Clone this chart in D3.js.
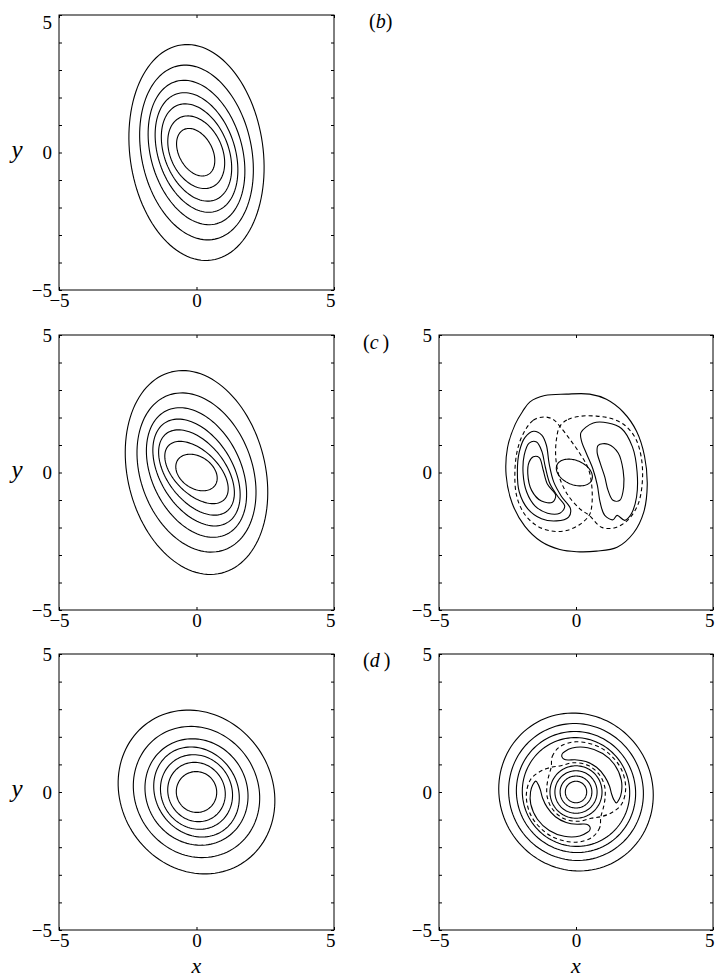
<!DOCTYPE html>
<html><head><meta charset="utf-8">
<script src="https://cdn.jsdelivr.net/npm/d3@7"></script>
<style>body{margin:0;background:#fff}svg{display:block}</style>
</head><body>
<svg id="chart" width="715" height="978"></svg>
<script>
// ---------- axes ----------
const domain = [-5, 5];
const xTicks = [-5, 0, 5];
const yTicks = [-5, -4, -3, -2, -1, 0, 1, 2, 3, 4, 5];
const tickLabels = [-5, 0, 5];

// ---------- left column: elliptical contours (semi-axes, tilt in degrees) ----------
const bA = [3.95, 3.22, 2.69, 2.25, 1.85, 1.39, 0.93];
const bB = [2.42, 2.00, 1.66, 1.39, 1.16, 0.94, 0.605];
const bTheta = [98, 102, 106, 109, 112, 115, 119];
const bCx = [0, 0, 0, 0, 0, -0.01, -0.03];
const bCy = [0, 0, 0, 0, 0, 0.01, 0.01];

const cA = [3.77, 2.99, 2.50, 2.14, 1.79, 1.41, 0.82];
const cB = [2.50, 2.03, 1.62, 1.31, 1.05, 0.79, 0.58];
const cTheta = [104, 110, 116, 122, 128, 136, 146];
const cCx = [0, 0, 0, 0, 0, 0, 0];
const cCy = [0, 0, 0, 0, 0, 0, 0];

const dA = [3.07, 2.45, 1.98, 1.70, 1.39, 1.10, 0.745];
const dB = [2.74, 2.22, 1.82, 1.48, 1.27, 1.02, 0.73];
const dTheta = [124.5, 125, 125, 125, 125, 125, 125];
const dCx = [0, 0, 0, 0, 0, 0, 0];
const dCy = [0, 0, 0, 0, 0, 0, 0];

// ---------- panel (c) right: traced contours [x, y] ----------
const cRightOuter = [[-1.68,2.57],[-1.14,2.80],[-0.35,2.85],[0.50,2.85],[1.11,2.66],[1.72,2.20],[2.21,1.50],[2.50,0.60],[2.60,-0.45],[2.47,-1.45],[2.10,-2.20],[1.50,-2.72],[0.75,-2.86],[0.02,-2.88],[-0.59,-2.80],[-1.26,-2.52],[-1.87,-1.95],[-2.33,-1.12],[-2.55,-0.10],[-2.50,0.90],[-2.22,1.75],[-1.95,2.22]];
const cRightDashL = [[-1.92,1.42],[-1.56,1.90],[-1.16,2.02],[-0.83,1.93],[-0.59,1.68],[-0.24,1.23],[0.14,0.69],[0.45,0.14],[0.58,-0.53],[0.57,-1.26],[0.48,-1.56],[0.14,-1.89],[-0.35,-2.11],[-0.89,-2.13],[-1.44,-1.93],[-1.90,-1.48],[-2.17,-0.83],[-2.23,0.02],[-2.14,0.81]];
const cRightDashR = [[-0.59,1.68],[-0.29,1.93],[0.20,2.05],[0.75,2.05],[1.29,1.96],[1.78,1.72],[2.18,1.23],[2.39,0.50],[2.42,-0.35],[2.27,-1.14],[1.90,-1.72],[1.42,-2.01],[0.93,-1.99],[0.48,-1.56],[0.14,-1.32],[-0.29,-0.83],[-0.61,-0.16],[-0.74,0.57],[-0.71,1.23]];
const cLeftLobe1 = [[-1.55,1.50],[-1.25,1.36],[-1.08,0.99],[-0.98,0.32],[-0.81,-0.35],[-0.53,-0.87],[-0.20,-1.32],[-0.27,-1.62],[-0.71,-1.76],[-1.26,-1.68],[-1.76,-1.32],[-2.07,-0.71],[-2.14,0.02],[-2.07,0.75],[-1.86,1.28]];
const cLeftLobe2 = [[-1.71,1.07],[-1.44,1.11],[-1.25,0.78],[-1.12,0.20],[-0.95,-0.41],[-0.65,-0.89],[-0.41,-1.23],[-0.59,-1.48],[-1.04,-1.48],[-1.50,-1.21],[-1.80,-0.71],[-1.93,-0.04],[-1.89,0.63]];
const cLeftLobe3 = [[-1.56,0.57],[-1.34,0.54],[-1.20,0.10],[-1.04,-0.43],[-0.74,-0.83],[-0.86,-1.08],[-1.26,-1.04],[-1.62,-0.65],[-1.76,-0.04],[-1.71,0.38]];
const cRightLobe1 = [[0.18,1.45],[0.63,1.80],[1.17,1.80],[1.66,1.60],[2.06,0.93],[2.23,0.02],[2.21,-0.89],[2.02,-1.50],[1.78,-1.74],[1.50,-1.56],[1.35,-1.72],[1.05,-1.56],[0.88,-1.08],[0.78,-0.47],[0.62,0.12],[0.38,0.69],[0.20,1.15]];
const cRightLobe2 = [[0.81,0.99],[1.17,1.03],[1.54,0.71],[1.72,0.08],[1.74,-0.53],[1.60,-1.01],[1.35,-1.01],[1.17,-0.65],[1.05,-0.16],[0.89,0.32],[0.77,0.75]];
const cCentre = {cx: -0.06, cy: 0.0, A: 0.69, B: 0.44, theta: 157};

// ---------- panel (d) right: rings, arms and dashed loops ----------
const dRingA = [2.90, 2.50, 2.21, 1.98, 0.95, 0.77, 0.58, 0.39];
const dRingB = [2.78, 2.44, 2.16, 1.95, 0.95, 0.77, 0.58, 0.39];
const dRingTheta = [125, 125, 125, 125, 0, 0, 0, 0];
// polar [angle in degrees, radius]
const dArmUpper = [[106,1.52],[95,1.60],[75,1.66],[55,1.70],[35,1.72],[15,1.71],[0,1.66],[-9,1.60],[-15,1.52],[-11,1.40],[-3,1.30],[10,1.24],[28,1.19],[50,1.17],[72,1.16],[92,1.17],[103,1.19],[110,1.26],[112,1.37],[110,1.47]];
const dArmLower = [[286,1.52],[275,1.60],[255,1.66],[235,1.70],[215,1.72],[195,1.71],[180,1.66],[171,1.60],[165,1.52],[169,1.40],[177,1.30],[190,1.24],[208,1.19],[230,1.17],[252,1.16],[272,1.17],[283,1.19],[290,1.26],[292,1.37],[290,1.47]];
const dDashU = [[135,1.28],[124,1.55],[110,1.74],[90,1.82],[60,1.84],[30,1.85],[5,1.82],[-15,1.72],[-30,1.50],[-45,1.27],[-60,1.10],[-85,1.065],[-115,1.06],[-145,1.06],[-170,1.065],[170,1.08],[152,1.14]];
const dDashL = [[315,1.28],[304,1.55],[290,1.74],[270,1.82],[240,1.84],[210,1.85],[185,1.82],[165,1.72],[150,1.50],[135,1.27],[120,1.10],[95,1.065],[65,1.06],[35,1.06],[10,1.065],[-10,1.08],[-28,1.14]];

// ---------- layout ----------
const svg = d3.select("#chart");
const panels = [
  {id: "bL", x0: 59, x1: 334, y0: 15, y1: 290, tag: "b"},
  {id: "cL", x0: 59, x1: 334, y0: 335, y1: 610},
  {id: "cR", x0: 439, x1: 713, y0: 335, y1: 610, tag: "c"},
  {id: "dL", x0: 59, x1: 334, y0: 654, y1: 930},
  {id: "dR", x0: 439, x1: 713, y0: 654, y1: 930, tag: "d"}
];
const FONT = "'Liberation Serif','Times New Roman',serif";
const toRad = Math.PI / 180;
const polar = p => [p[1] * Math.cos(p[0] * toRad), p[1] * Math.sin(p[0] * toRad)];
const fmt = d => (d < 0 ? "\u2212" + Math.abs(d) : String(d));

function ellipsePts(cx, cy, A, B, thDeg) {
  const th = thDeg * toRad;
  return d3.range(0, 360, 3).map(t => {
    const a = t * toRad;
    return [cx + A * Math.cos(a) * Math.cos(th) - B * Math.sin(a) * Math.sin(th),
            cy + A * Math.cos(a) * Math.sin(th) + B * Math.sin(a) * Math.cos(th)];
  });
}

panels.forEach(p => {
  p.x = d3.scaleLinear().domain(domain).range([p.x0, p.x1]);
  p.y = d3.scaleLinear().domain(domain).range([p.y1, p.y0]);
  p.g = svg.append("g");
  p.smooth = d3.line().x(d => p.x(d[0])).y(d => p.y(d[1])).curve(d3.curveCatmullRomClosed.alpha(0.5));
  p.poly = d3.line().x(d => p.x(d[0])).y(d => p.y(d[1])).curve(d3.curveLinearClosed);
});
const P = Object.fromEntries(panels.map(p => [p.id, p]));

function drawEllipses(p, A, B, T, CX, CY) {
  A.forEach((a, i) => {
    p.g.append("path").attr("d", p.poly(ellipsePts(CX ? CX[i] : 0, CY ? CY[i] : 0, a, B[i], T[i])))
      .attr("fill", "none").attr("stroke", "#000").attr("stroke-width", 1.1);
  });
}
function drawCurve(p, pts, dashed) {
  p.g.append("path").attr("d", p.smooth(pts)).attr("fill", "none")
    .attr("stroke", "#000").attr("stroke-width", 1.1)
    .attr("stroke-dasharray", dashed ? "4,3" : null);
}

// left column
drawEllipses(P.bL, bA, bB, bTheta, bCx, bCy);
drawEllipses(P.cL, cA, cB, cTheta, cCx, cCy);
drawEllipses(P.dL, dA, dB, dTheta, dCx, dCy);

// panel c right
drawCurve(P.cR, cRightOuter, false);
[cLeftLobe1, cLeftLobe2, cLeftLobe3, cRightLobe1, cRightLobe2].forEach(c => drawCurve(P.cR, c, false));
P.cR.g.append("path").attr("d", P.cR.poly(ellipsePts(cCentre.cx, cCentre.cy, cCentre.A, cCentre.B, cCentre.theta)))
  .attr("fill", "none").attr("stroke", "#000").attr("stroke-width", 1.1);
drawCurve(P.cR, cRightDashL, true);
drawCurve(P.cR, cRightDashR, true);

// panel d right
drawEllipses(P.dR, dRingA, dRingB, dRingTheta);
drawCurve(P.dR, dArmUpper.map(polar), false);
drawCurve(P.dR, dArmLower.map(polar), false);
drawCurve(P.dR, dDashU.map(polar), true);
drawCurve(P.dR, dDashL.map(polar), true);

// axes / frames
panels.forEach(p => {
  const g = svg.append("g");
  const left = g.append("g").attr("transform", `translate(${p.x0},0)`)
    .call(d3.axisLeft(p.y).tickValues(yTicks).tickSize(-3).tickSizeOuter(0).tickPadding(7)
      .tickFormat(d => tickLabels.includes(d) ? fmt(d) : ""));
  const right = g.append("g").attr("transform", `translate(${p.x1},0)`)
    .call(d3.axisRight(p.y).tickValues(yTicks).tickSize(-3).tickSizeOuter(0).tickFormat(""));
  const bottom = g.append("g").attr("transform", `translate(0,${p.y1})`)
    .call(d3.axisBottom(p.x).tickValues(xTicks).tickSize(-3).tickSizeOuter(0).tickPadding(4).tickFormat(fmt));
  const top = g.append("g").attr("transform", `translate(0,${p.y0})`)
    .call(d3.axisTop(p.x).tickValues(xTicks).tickSize(-3).tickSizeOuter(0).tickFormat(""));
  [left, right, bottom, top].forEach(a => {
    a.select(".domain").remove();
    a.selectAll("line").attr("stroke", "#000").attr("stroke-width", 1);
    a.selectAll("text").attr("font-family", FONT).attr("font-size", 19).attr("fill", "#000");
  });
  // keep the top y label inside the figure
  left.selectAll(".tick").filter(d => d === 5)
    .select("text").attr("y", Math.max(0, 22 - p.y0));
  // last x label ends at the right frame edge
  bottom.selectAll(".tick").filter(d => d === 5)
    .select("text").attr("text-anchor", "end").attr("x", 1);
  g.append("rect").attr("x", p.x0).attr("y", p.y0).attr("width", p.x1 - p.x0).attr("height", p.y1 - p.y0)
    .attr("fill", "none").attr("stroke", "#000").attr("stroke-width", 1);
});

// axis titles
[P.bL, P.cL, P.dL].forEach(p => {
  svg.append("text").attr("x", 17).attr("y", (p.y0 + p.y1) / 2).attr("dy", "0.2em")
    .attr("text-anchor", "middle").attr("font-family", FONT).attr("font-style", "italic")
    .attr("font-size", 25).text("y");
});
[P.dL, P.dR].forEach(p => {
  svg.append("text").attr("x", (p.x0 + p.x1) / 2).attr("y", 973)
    .attr("text-anchor", "middle").attr("font-family", FONT).attr("font-style", "italic")
    .attr("font-size", 22).text("x");
});

// panel tags
const tagPos = {b: [369, 28], c: [363, 349], d: [363, 667]};
panels.filter(p => p.tag).forEach(p => {
  const t = svg.append("text").attr("x", tagPos[p.tag][0]).attr("y", tagPos[p.tag][1])
    .attr("font-family", FONT).attr("font-size", 20).attr("fill", "#000");
  t.append("tspan").text("(");
  t.append("tspan").attr("font-style", "italic").text(p.tag);
  t.append("tspan").text(p.tag === "b" ? ")" : "\u2009)");
});
</script>
</body></html>
